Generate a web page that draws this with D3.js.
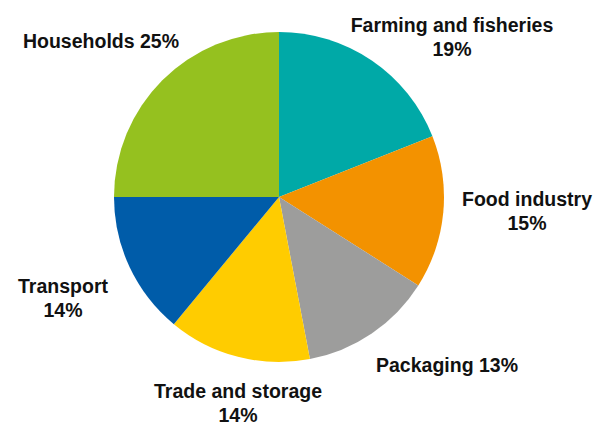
<!DOCTYPE html>
<html>
<head>
<meta charset="utf-8">
<script src="https://cdn.jsdelivr.net/npm/d3@7"></script>
<style>
  body { margin: 0; background: #fff; }
  text { font-family: "Liberation Sans", Arial, sans-serif; font-weight: 700; fill: #111; }
</style>
</head>
<body>
<script>
// data
const categories = ["Farming and fisheries", "Food industry", "Packaging", "Trade and storage", "Transport", "Households"];
const shares = [19, 15, 13, 14, 14, 25];
const colors = ["#00a9a7", "#f39200", "#9d9d9c", "#ffcc00", "#005ca9", "#95c11f"];

const width = 606;
const height = 426;
const cx = 279, cy = 197, radius = 165;

// label placement, one entry per category: x centre, y of first baseline
const labelLayout = [
  { x: 452, y: 32, split: true },
  { x: 527, y: 206, split: true },
  { x: 447, y: 372, split: false },
  { x: 238, y: 398, split: true },
  { x: 63, y: 293, split: true },
  { x: 101, y: 48, split: false }
];

const data = categories.map((c, i) => ({ name: c, value: shares[i], color: colors[i] }));

const svg = d3
  .select("body")
  .append("svg")
  .attr("width", width)
  .attr("height", height);

const pie = d3.pie().sort(null).value((d) => d.value);
const arc = d3.arc().innerRadius(0).outerRadius(radius);

const g = svg.append("g").attr("transform", `translate(${cx},${cy})`);

g.selectAll("path")
  .data(pie(data))
  .join("path")
  .attr("d", arc)
  .attr("fill", (d) => d.data.color);

// labels
const labels = svg
  .selectAll("text.label")
  .data(data)
  .join("text")
  .attr("class", "label")
  .attr("text-anchor", "middle")
  .attr("font-size", 19.5)
  .attr("x", (d, i) => labelLayout[i].x)
  .attr("y", (d, i) => labelLayout[i].y);

labels.each(function (d, i) {
  const t = d3.select(this);
  const lay = labelLayout[i];
  if (lay.split) {
    t.append("tspan").attr("x", lay.x).text(d.name);
    t.append("tspan").attr("x", lay.x).attr("dy", 23.5).text(d.value + "%");
  } else {
    t.text(d.name + " " + d.value + "%");
  }
});
</script>
</body>
</html>
